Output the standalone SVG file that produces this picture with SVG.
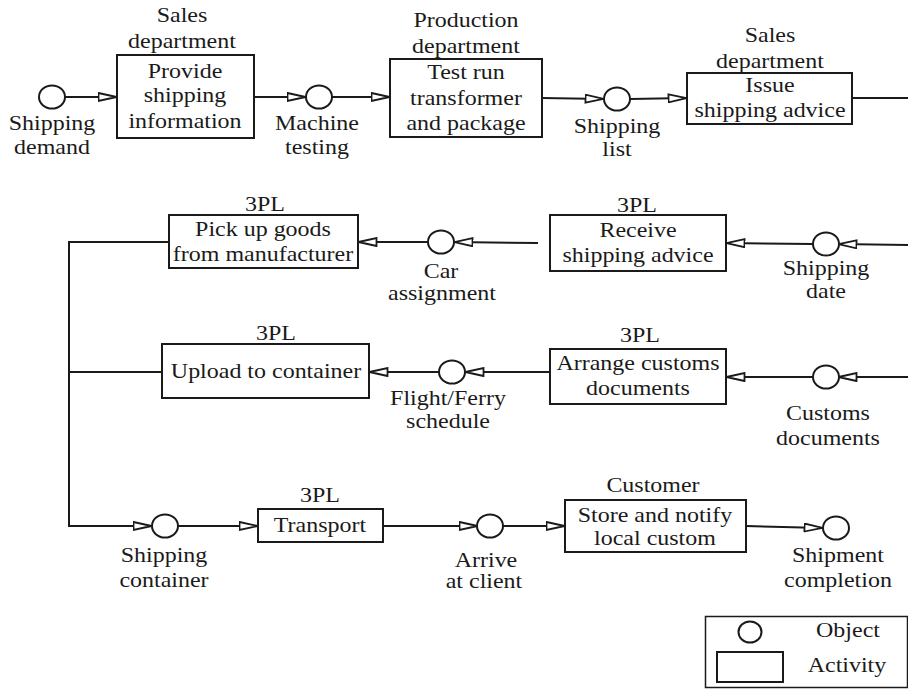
<svg xmlns="http://www.w3.org/2000/svg" width="908" height="689" viewBox="0 0 908 689">
<style>
.t{fill:#1a1a1a}
.box{fill:#fff;stroke:#1a1a1a;stroke-width:2}
.obj{fill:#fff;stroke:#1a1a1a;stroke-width:2}
.c{fill:none;stroke:#1a1a1a;stroke-width:2}
.ca{fill:none;stroke:#1a1a1a;stroke-width:2;marker-end:url(#tri)}
</style>
<defs>
<marker id="tri" viewBox="0 0 20 10" refX="19.5" refY="5" markerWidth="20" markerHeight="10" markerUnits="userSpaceOnUse" orient="auto">
<path d="M1,1 L19,5 L1,9 Z" fill="#fff" stroke="#1a1a1a" stroke-width="1.8" stroke-linejoin="miter"/>
</marker>
</defs>
<rect width="908" height="689" fill="#fff"/>
<g id="connectors">
<path class="ca" d="M65,97 L117,97"/>
<path class="ca" d="M254,97 L306,97"/>
<path class="ca" d="M332,97 L390,97"/>
<path class="ca" d="M542,98 L604,99"/>
<path class="ca" d="M630,99 L687,98"/>
<path class="c" d="M852,98 L908,98" stroke-width="2.4"/>
<path class="ca" d="M908,245 L838,244"/>
<path class="ca" d="M813,244 L726,243"/>
<path class="ca" d="M538,243 L454,242"/>
<path class="ca" d="M428,242 L358,242"/>
<path class="ca" d="M169,242 L69,242 L69,526 L152,526"/>
<path class="c" d="M162,372 L69,372"/>
<path class="ca" d="M908,377 L838,377"/>
<path class="ca" d="M813,377 L726,377"/>
<path class="ca" d="M550,372 L465,372"/>
<path class="ca" d="M439,372 L369,372"/>
<path class="ca" d="M177,526 L258,526"/>
<path class="ca" d="M383,526 L478,526"/>
<path class="ca" d="M503,526 L565,526"/>
<path class="ca" d="M746,526 L823,528"/>
</g>
<g font-family="Liberation Serif, Times New Roman, serif" font-size="22" text-anchor="middle">
<g id="shipping-demand"><ellipse class="obj" cx="52" cy="97" rx="13" ry="11.5"/><text class="t" x="52" y="130" transform="matrix(1.09 0 0 1 -4.68 0)">Shipping</text><text class="t" x="52" y="154" transform="matrix(1.09 0 0 1 -4.68 0)">demand</text></g>
<g id="provide-shipping-information"><text class="t" x="182" y="22" transform="matrix(1.09 0 0 1 -16.38 0)">Sales</text><text class="t" x="182" y="48" transform="matrix(1.09 0 0 1 -16.38 0)">department</text><rect class="box" x="117" y="55" width="137" height="83"/><text class="t" x="185" y="78" transform="matrix(1.09 0 0 1 -16.65 0)">Provide</text><text class="t" x="185" y="102" transform="matrix(1.09 0 0 1 -16.65 0)">shipping</text><text class="t" x="185" y="128" transform="matrix(1.09 0 0 1 -16.65 0)">information</text></g>
<g id="machine-testing"><ellipse class="obj" cx="319" cy="97" rx="13" ry="11.5"/><text class="t" x="317" y="130" transform="matrix(1.09 0 0 1 -28.53 0)">Machine</text><text class="t" x="317" y="154" transform="matrix(1.09 0 0 1 -28.53 0)">testing</text></g>
<g id="test-run"><text class="t" x="466" y="27" transform="matrix(1.09 0 0 1 -41.94 0)">Production</text><text class="t" x="466" y="53" transform="matrix(1.09 0 0 1 -41.94 0)">department</text><rect class="box" x="390" y="59" width="152" height="78"/><text class="t" x="466" y="79" transform="matrix(1.09 0 0 1 -41.94 0)">Test run</text><text class="t" x="466" y="105" transform="matrix(1.09 0 0 1 -41.94 0)">transformer</text><text class="t" x="466" y="130" transform="matrix(1.09 0 0 1 -41.94 0)">and package</text></g>
<g id="shipping-list"><ellipse class="obj" cx="617" cy="99" rx="13" ry="11.5"/><text class="t" x="617" y="133" transform="matrix(1.09 0 0 1 -55.53 0)">Shipping</text><text class="t" x="617" y="156" transform="matrix(1.09 0 0 1 -55.53 0)">list</text></g>
<g id="issue-shipping-advice"><text class="t" x="770" y="42" transform="matrix(1.09 0 0 1 -69.3 0)">Sales</text><text class="t" x="770" y="68" transform="matrix(1.09 0 0 1 -69.3 0)">department</text><rect class="box" x="687" y="73" width="165" height="51"/><text class="t" x="770" y="92" transform="matrix(1.09 0 0 1 -69.3 0)">Issue</text><text class="t" x="770" y="117" transform="matrix(1.09 0 0 1 -69.3 0)">shipping advice</text></g>
<g id="pick-up-goods"><text class="t" x="265" y="211" transform="matrix(1.09 0 0 1 -23.85 0)">3PL</text><rect class="box" x="169" y="215" width="189" height="53"/><text class="t" x="263" y="236" transform="matrix(1.09 0 0 1 -23.67 0)">Pick up goods</text><text class="t" x="263" y="261" transform="matrix(1.09 0 0 1 -23.67 0)">from manufacturer</text></g>
<g id="car-assignment"><ellipse class="obj" cx="441" cy="242" rx="13" ry="11.5"/><text class="t" x="441" y="278" transform="matrix(1.09 0 0 1 -39.69 0)">Car</text><text class="t" x="442" y="300" transform="matrix(1.09 0 0 1 -39.78 0)">assignment</text></g>
<g id="receive-shipping-advice"><text class="t" x="637" y="212" transform="matrix(1.09 0 0 1 -57.33 0)">3PL</text><rect class="box" x="550" y="215" width="176" height="56"/><text class="t" x="638" y="237" transform="matrix(1.09 0 0 1 -57.42 0)">Receive</text><text class="t" x="638" y="262" transform="matrix(1.09 0 0 1 -57.42 0)">shipping advice</text></g>
<g id="shipping-date"><ellipse class="obj" cx="826" cy="244" rx="13" ry="11.5"/><text class="t" x="826" y="275" transform="matrix(1.09 0 0 1 -74.34 0)">Shipping</text><text class="t" x="826" y="298" transform="matrix(1.09 0 0 1 -74.34 0)">date</text></g>
<g id="upload-to-container"><text class="t" x="276" y="340" transform="matrix(1.09 0 0 1 -24.84 0)">3PL</text><rect class="box" x="162" y="344" width="207" height="54"/><text class="t" x="266" y="378" transform="matrix(1.09 0 0 1 -23.94 0)">Upload to container</text></g>
<g id="flight-ferry-schedule"><ellipse class="obj" cx="452" cy="372" rx="13" ry="11.5"/><text class="t" x="448" y="405" transform="matrix(1.09 0 0 1 -40.32 0)">Flight/Ferry</text><text class="t" x="448" y="428" transform="matrix(1.09 0 0 1 -40.32 0)">schedule</text></g>
<g id="arrange-customs-documents"><text class="t" x="640" y="342" transform="matrix(1.09 0 0 1 -57.6 0)">3PL</text><rect class="box" x="550" y="349" width="176" height="55"/><text class="t" x="638" y="370" transform="matrix(1.09 0 0 1 -57.42 0)">Arrange customs</text><text class="t" x="638" y="395" transform="matrix(1.09 0 0 1 -57.42 0)">documents</text></g>
<g id="customs-documents"><ellipse class="obj" cx="826" cy="377" rx="13" ry="11.5"/><text class="t" x="828" y="420" transform="matrix(1.09 0 0 1 -74.52 0)">Customs</text><text class="t" x="828" y="445" transform="matrix(1.09 0 0 1 -74.52 0)">documents</text></g>
<g id="shipping-container"><ellipse class="obj" cx="165" cy="526" rx="13" ry="11.5"/><text class="t" x="164" y="562" transform="matrix(1.09 0 0 1 -14.76 0)">Shipping</text><text class="t" x="164" y="587" transform="matrix(1.09 0 0 1 -14.76 0)">container</text></g>
<g id="transport"><text class="t" x="320" y="502" transform="matrix(1.09 0 0 1 -28.8 0)">3PL</text><rect class="box" x="258" y="509" width="125" height="33"/><text class="t" x="320" y="532" transform="matrix(1.09 0 0 1 -28.8 0)">Transport</text></g>
<g id="arrive-at-client"><ellipse class="obj" cx="490" cy="526" rx="13" ry="11.5"/><text class="t" x="486" y="567" transform="matrix(1.09 0 0 1 -43.74 0)">Arrive</text><text class="t" x="484" y="588" transform="matrix(1.09 0 0 1 -43.56 0)">at client</text></g>
<g id="store-and-notify"><text class="t" x="653" y="492" transform="matrix(1.09 0 0 1 -58.77 0)">Customer</text><rect class="box" x="565" y="500" width="181" height="52"/><text class="t" x="655" y="522" transform="matrix(1.09 0 0 1 -58.95 0)">Store and notify</text><text class="t" x="655" y="545" transform="matrix(1.09 0 0 1 -58.95 0)">local custom</text></g>
<g id="shipment-completion"><ellipse class="obj" cx="836" cy="528" rx="13" ry="11.5"/><text class="t" x="838" y="562" transform="matrix(1.09 0 0 1 -75.42 0)">Shipment</text><text class="t" x="838" y="587" transform="matrix(1.09 0 0 1 -75.42 0)">completion</text></g>
<g id="legend">
<rect x="705.5" y="616.5" width="202" height="71" fill="#fff" stroke="#1a1a1a" stroke-width="1.5"/>
<ellipse class="obj" cx="750" cy="632" rx="11.5" ry="10.5"/>
<rect class="box" x="717" y="652" width="66" height="30"/>
<text class="t" x="848" y="637" transform="matrix(1.09 0 0 1 -76.32 0)">Object</text>
<text class="t" x="847" y="672" transform="matrix(1.09 0 0 1 -76.23 0)">Activity</text>
</g>
</g>
</svg>
